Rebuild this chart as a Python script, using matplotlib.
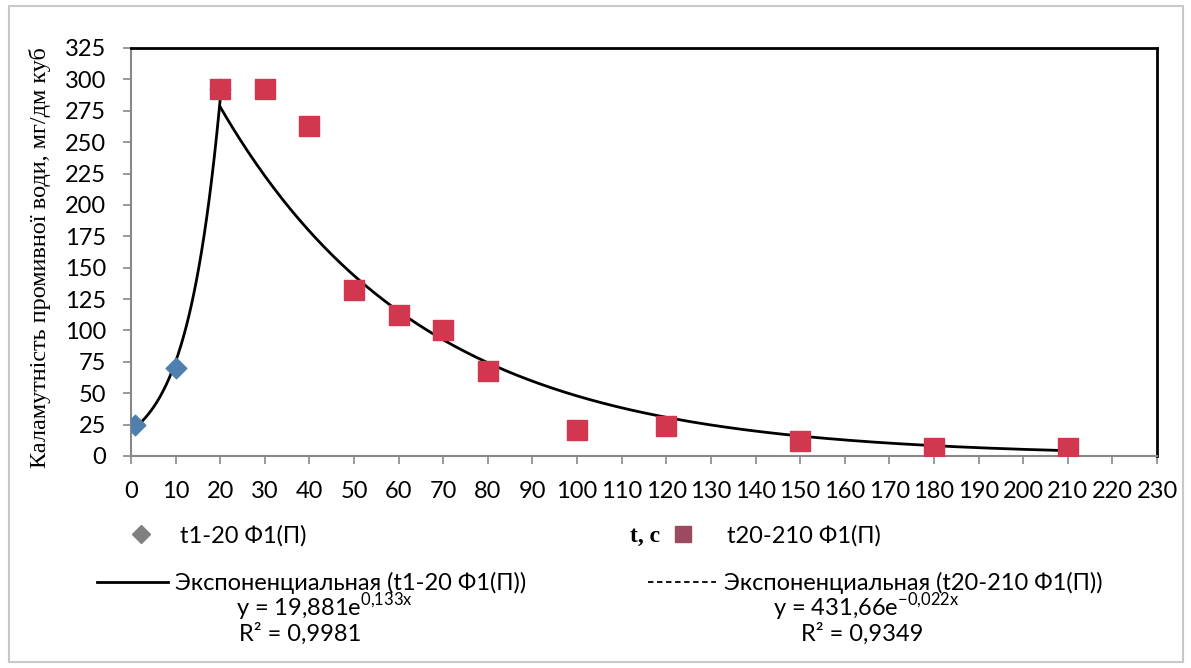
import numpy as np
import matplotlib
matplotlib.use("Agg")
import matplotlib.pyplot as plt
from matplotlib.lines import Line2D
from matplotlib.patches import Rectangle

SANS = ["Lato", "DejaVu Sans"]
SERIF = ["Liberation Serif", "DejaVu Serif"]
plt.rcParams["mathtext.fontset"] = "custom"
plt.rcParams["mathtext.rm"] = "Lato"

# ряд 1: t1-20
t1 = [1, 10, 20]
y1 = [25, 70, 292]
# ряд 2: t20-210
t2 = [20, 30, 40, 50, 60, 70, 80, 100, 120, 150, 180, 210]
y2 = [292, 292, 263, 132, 112, 100, 68, 21, 24, 12, 6, 6]

# тренды (коэффициенты с графика)
a1, b1 = 19.881, 0.133
a2, b2 = 431.66, -0.022

xticks = list(range(0, 231, 10))
yticks = list(range(0, 326, 25))

FS = 17
W, H = 1191, 668
fig = plt.figure(figsize=(W / 100, H / 100), dpi=100)
ax = fig.add_axes([131 / W, 1 - 456 / H, (1157 - 131) / W, (456 - 48) / H])

xx1 = np.linspace(t1[0], t1[-1], 200)
xx2 = np.linspace(t2[0], t2[-1], 400)
ax.plot(xx1, a1 * np.exp(b1 * xx1), color="black", lw=2, zorder=2)
ax.plot(xx2, a2 * np.exp(b2 * xx2), color="black", lw=2, zorder=2)
ax.scatter(t1, y1, marker="D", s=110, color="#4f7fae", zorder=3)
ax.scatter(t2, y2, marker="s", s=225, color="#d1374f", zorder=4)

ax.set_xlim(0, 230)
ax.set_ylim(0, 325)
ax.set_xticks(xticks)
ax.set_yticks(yticks)
for lab in ax.get_xticklabels() + ax.get_yticklabels():
    lab.set_family(SANS)
    lab.set_fontsize(FS)
ax.tick_params(direction="out", length=6, color="#888888", width=1.2)
ax.tick_params(axis="y", pad=12)
ax.tick_params(axis="x", pad=12)
for s in ("left", "bottom"):
    ax.spines[s].set_color("#888888")
    ax.spines[s].set_linewidth(1.5)
for s in ("top", "right"):
    ax.spines[s].set_color("black")
    ax.spines[s].set_linewidth(2)

fig.text(40 / W, 1 - 258 / H, "Каламутність промивної води, мг/дм куб",
         rotation=90, ha="center", va="center", family=SERIF, fontsize=17.5)
fig.text(645 / W, 1 - 536 / H, "t, с", ha="center", va="center",
         family=SERIF, fontsize=17, fontweight="bold")

# легенда
prop = {"family": SANS, "size": FS}
h1 = Line2D([], [], ls="none", marker="D", ms=9, color="#808080")
h2 = Line2D([], [], ls="none", marker="s", ms=12, color="#9c4a60")
fig.legend([h1], ["t1-20 Ф1(П)"], loc="center left", bbox_to_anchor=(128.7 / W, 1 - 536 / H),
           frameon=False, prop=prop, borderpad=0, borderaxespad=0,
           handlelength=1, handletextpad=1.17)
fig.legend([h2], ["t20-210 Ф1(П)"], loc="center left", bbox_to_anchor=(670.7 / W, 1 - 536 / H),
           frameon=False, prop=prop, borderpad=0, borderaxespad=0,
           handlelength=1, handletextpad=1.4)

l1 = Line2D([], [], color="black", lw=2)
l2 = Line2D([], [], color="black", lw=1.3, ls=(0, (3, 2)))
fig.legend([l1], ["Экспоненциальная (t1-20 Ф1(П))"], loc="center left",
           bbox_to_anchor=(97 / W, 1 - 583 / H), frameon=False, prop=prop,
           borderpad=0, borderaxespad=0, handlelength=3.0, handletextpad=0.31)
fig.legend([l2], ["Экспоненциальная (t20-210 Ф1(П))"], loc="center left",
           bbox_to_anchor=(648 / W, 1 - 583 / H), frameon=False, prop=prop,
           borderpad=0, borderaxespad=0, handlelength=2.9, handletextpad=0.3)

fig.text(324 / W, 1 - 607 / H, r"y = 19,881e$^{\mathrm{0{,}133x}}$", ha="center", va="center",
         family=SANS, fontsize=FS)
fig.text(300 / W, 1 - 634 / H, "R² = 0,9981", ha="center", va="center",
         family=SANS, fontsize=FS)
fig.text(866 / W, 1 - 607 / H, r"y = 431,66e$^{\mathrm{-0{,}022x}}$", ha="center", va="center",
         family=SANS, fontsize=FS)
fig.text(862 / W, 1 - 634 / H, "R² = 0,9349", ha="center", va="center",
         family=SANS, fontsize=FS)

fig.patches.append(Rectangle((9 / W, 6 / H), (1183 - 9) / W, (662 - 6) / H,
                             transform=fig.transFigure, fill=False,
                             edgecolor="#c8c8c8", lw=1.5))

fig.savefig("out.png", dpi=100)
